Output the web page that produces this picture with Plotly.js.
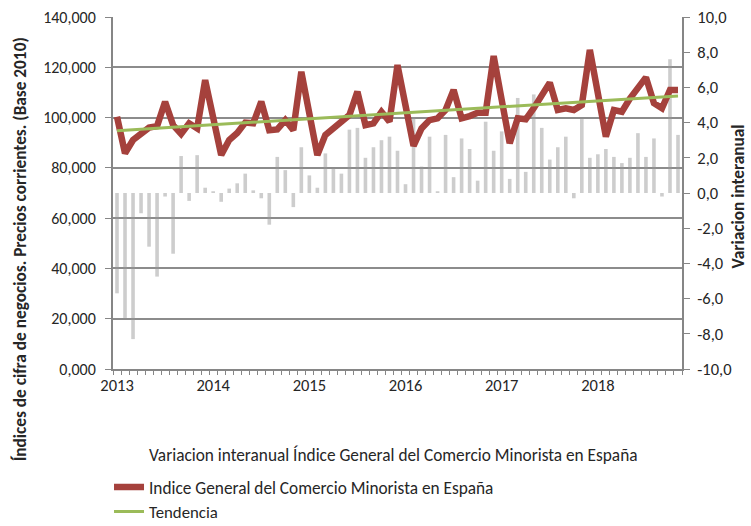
<!DOCTYPE html>
<html>
<head>
<meta charset="utf-8">
<script src="https://cdn.plot.ly/plotly-3.0.1.min.js"></script>
<style>html,body{margin:0;padding:0;background:#fff;}#chart{width:751px;height:526px;}</style>
</head>
<body>
<div id="chart"></div>
<script>
// Months Jan 2013 .. Nov 2018
const months = [
 '2013-01','2013-02','2013-03','2013-04','2013-05','2013-06','2013-07','2013-08','2013-09','2013-10','2013-11','2013-12',
 '2014-01','2014-02','2014-03','2014-04','2014-05','2014-06','2014-07','2014-08','2014-09','2014-10','2014-11','2014-12',
 '2015-01','2015-02','2015-03','2015-04','2015-05','2015-06','2015-07','2015-08','2015-09','2015-10','2015-11','2015-12',
 '2016-01','2016-02','2016-03','2016-04','2016-05','2016-06','2016-07','2016-08','2016-09','2016-10','2016-11','2016-12',
 '2017-01','2017-02','2017-03','2017-04','2017-05','2017-06','2017-07','2017-08','2017-09','2017-10','2017-11','2017-12',
 '2018-01','2018-02','2018-03','2018-04','2018-05','2018-06','2018-07','2018-08','2018-09','2018-10','2018-11'
];
const yearLabels = ['2013','2014','2015','2016','2017','2018'];

// Índice General del Comercio Minorista (left axis)
const indice = [
 100300, 85800, 91100, 93900, 96000, 96600,106300, 97000, 93500, 97700, 95700,114900,
 100000, 85100, 91100, 93900, 98000, 97700,106300, 95000, 95300, 99000, 95000,118200,
 101600, 85100, 93100, 95700, 97700,101000,110300, 97000, 97700,102300, 98400,120900,
 104800, 88700, 95700, 99000, 99700,103000,111000, 99700,100600,101900,101900,124500,
 107100, 89800, 99700, 99300,103700,108500,113900,103000,103700,103000,105000,126900,
 109600, 92400,103000,102300,107600,112300,116000,105700,103700,111000,111000
];

// Variación interanual (right axis, %)
const variacion = [
 -5.7, -7.1, -8.3, -1.15, -3.05, -4.75, -0.2, -3.45, 2.1, -0.45, 2.15, 0.3,
  0.1, -0.5, 0.25, 0.55, 1.1, 0.15, -0.3, -1.8, 2.05, 1.3, -0.8, 2.6,
  1.0, 0.3, 2.25, 1.4, 1.1, 3.6, 3.7, 2.0, 2.6, 3.0, 3.2, 2.4,
  0.5, 4.3, 1.5, 3.2, 0.1, 3.3, 0.9, 3.1, 2.5, 0.7, 4.05, 2.4,
  3.5, 0.8, 5.4, 1.2, 5.6, 3.7, 1.9, 2.6, 3.2, -0.3, 4.2, 2.0,
  2.2, 2.5, 2.05, 1.7, 2.0, 3.4, 2.05, 3.1, -0.2, 7.6, 3.3
];

// Tendencia (linear trend endpoints)
const tendenciaMonths = ['2013-01', '2018-11'];
const tendencia = [94800, 108600];

const leftTickVals = [0, 20000, 40000, 60000, 80000, 100000, 120000, 140000];
const leftTickText = ['0,000', '20,000', '40,000', '60,000', '80,000', '100,000', '120,000', '140,000'];
const rightTickVals = [-10, -8, -6, -4, -2, 0, 2, 4, 6, 8, 10];
const rightTickText = ['-10,0', '-8,0', '-6,0', '-4,0', '-2,0', '0,0', '2,0', '4,0', '6,0', '8,0', '10,0'];

const nameBars = 'Variacion interanual Índice General del Comercio Minorista en España';
const nameLine = 'Indice General del Comercio Minorista en España';
const nameTrend = 'Tendencia';

const xTickText = months.map(m => m.endsWith('-01') ? yearLabels[yearLabels.indexOf(m.slice(0,4))] : '');

const FONT = "Carlito, 'Open Sans', sans-serif";
const AX = '#868686';
const TXT = '#262626';

const traces = [
  {type: 'bar', x: months, y: variacion, xaxis: 'x', yaxis: 'y', width: 0.45,
   marker: {color: 'rgba(150,150,150,0.48)'}, name: nameBars, showlegend: false, hoverinfo: 'x+y'},
  {type: 'scatter', mode: 'lines', x: [null], y: [null], xaxis: 'x', yaxis: 'y2', name: nameBars,
   line: {color: 'rgba(0,0,0,0)', width: 1}, legend: 'legend'},
  {type: 'scatter', mode: 'lines', x: months, y: indice, xaxis: 'x', yaxis: 'y2', name: nameLine,
   line: {color: '#a5413c', width: 6.5}, legend: 'legend2'},
  {type: 'scatter', mode: 'lines', x: tendenciaMonths, y: tendencia, xaxis: 'x', yaxis: 'y2', name: nameTrend,
   line: {color: '#9bbb59', width: 3}, legend: 'legend3'}
];

const legBase = {xanchor: 'left', yanchor: 'middle', x: -0.007, bgcolor: 'rgba(0,0,0,0)',
  font: {family: FONT, size: 17.3, color: TXT}, itemwidth: 30};

const layout = {
  width: 751, height: 526,
  margin: {l: 113, r: 69, t: 17, b: 157, pad: 0, autoexpand: false},
  paper_bgcolor: '#fff', plot_bgcolor: '#fff',
  font: {family: FONT, color: TXT},
  showlegend: true,
  xaxis: {type: 'category', categoryorder: 'array', categoryarray: months, range: [-0.5, 70.5],
    tickvals: months, ticktext: xTickText, tickson: 'boundaries',
    ticks: 'outside', ticklen: 4, tickwidth: 1, tickcolor: AX,
    showline: true, linecolor: AX, linewidth: 2, showgrid: false, zeroline: false,
    tickfont: {family: FONT, size: 16.5, color: TXT}, tickangle: 0},
  yaxis: {side: 'right', range: [-10, 10], tickvals: rightTickVals, ticktext: rightTickText,
    ticks: 'outside', ticklen: 6, tickwidth: 1, tickcolor: AX,
    showline: true, linecolor: AX, linewidth: 2, showgrid: false, zeroline: false,
    tickfont: {family: FONT, size: 16.5, color: TXT}, ticklabelstandoff: 4},
  yaxis2: {overlaying: 'y', side: 'left', range: [0, 140000], tickvals: leftTickVals, ticktext: leftTickText,
    ticks: 'outside', ticklen: 6, tickwidth: 1, tickcolor: AX,
    showline: true, linecolor: AX, linewidth: 2, showgrid: true, gridcolor: '#8c8c8c', gridwidth: 2,
    zeroline: false, tickfont: {family: FONT, size: 16, color: TXT}, ticklabelstandoff: 6},
  legend: Object.assign({}, legBase, {y: -0.244}),
  legend2: Object.assign({}, legBase, {y: -0.336}),
  legend3: Object.assign({}, legBase, {y: -0.405, font: {family: FONT, size: 16.8, color: TXT}}),
  annotations: [
    {text: '<b>Índices de cifra de negocios. Precios corrientes. (Base 2010)</b>', xref: 'paper', yref: 'paper',
     x: -0.1634, y: 0.34, xanchor: 'center', yanchor: 'middle', textangle: -90, showarrow: false,
     font: {family: FONT, size: 17.3, color: TXT}},
    {text: '<b>Variacion interanual</b>', xref: 'paper', yref: 'paper',
     x: 1.099, y: 0.491, xanchor: 'center', yanchor: 'middle', textangle: -90, showarrow: false,
     font: {family: FONT, size: 17.3, color: TXT}}
  ]
};

Plotly.newPlot('chart', traces, layout, {displayModeBar: false, staticPlot: true});
</script>
</body>
</html>
